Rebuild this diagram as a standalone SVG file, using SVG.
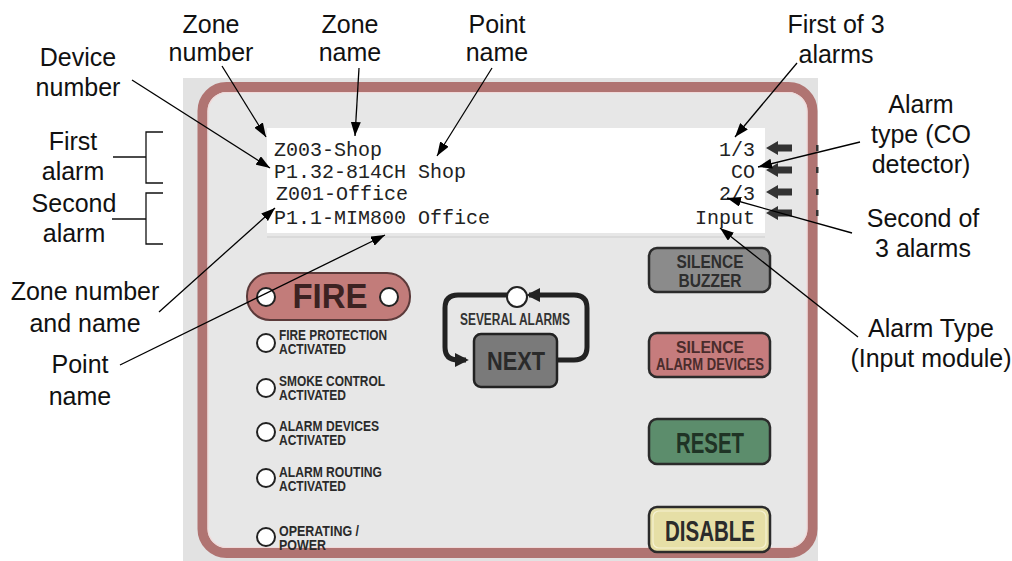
<svg xmlns="http://www.w3.org/2000/svg" width="1012" height="561" viewBox="0 0 1012 561">
  <defs>
    <style>
      .lbl { font-family: "Liberation Sans", Arial, sans-serif; font-size: 25px; fill: #111; text-anchor: middle; }
      .lcd { font-family: "Liberation Mono", "Courier New", monospace; font-size: 20px; fill: #222; }
      .led-txt { font-family: "Liberation Sans", Arial, sans-serif; font-weight: bold; font-size: 14px; fill: #2a2a2a; }
      .btn-txt { font-family: "Liberation Sans", Arial, sans-serif; font-weight: bold; text-anchor: middle; }
      .led { fill: #fff; stroke: #222; stroke-width: 2; }
      .conn { stroke: #000; stroke-width: 1.3; fill: none; marker-end: url(#ah); }
      .btn { stroke: #2b2b2b; stroke-width: 2.5; }
      .ind { fill: #333; }
    </style>
    <marker id="ah" viewBox="0 0 14 10" refX="14" refY="5" markerWidth="14" markerHeight="10" markerUnits="userSpaceOnUse" orient="auto">
      <path d="M0,0 L14,5 L0,10 z" fill="#000"/>
    </marker>
    <marker id="loopHead" viewBox="0 0 10 10" refX="8" refY="5" markerWidth="14" markerHeight="14" markerUnits="userSpaceOnUse" orient="auto">
      <path d="M0,0 L10,5 L0,10 z" fill="#222"/>
    </marker>
  </defs>

  <!-- panel body -->
  <g id="panel">
    <rect x="183" y="78" width="635" height="483" fill="#e2e2e2"/>
    <rect x="202.5" y="87" width="610" height="466" rx="24" fill="#e7e7e7" stroke="#b07472" stroke-width="10"/>
    <rect x="208" y="92.5" width="599" height="455" rx="19" fill="none" stroke="#f1d9d9" stroke-width="1.2"/>
  </g>

  <!-- LCD display -->
  <g id="lcd">
    <rect x="267" y="128" width="498" height="105" fill="#fff"/>
    <line x1="267" y1="237" x2="765" y2="237" stroke="#d6d6d6" stroke-width="1.5"/>
    <text class="lcd" x="274" y="156">Z003-Shop</text>
    <text class="lcd" x="274" y="178">P1.32-814CH Shop</text>
    <text class="lcd" x="276" y="200">Z001-Office</text>
    <text class="lcd" x="274" y="224">P1.1-MIM800 Office</text>
    <text class="lcd" x="755" y="156" text-anchor="end">1/3</text>
    <text class="lcd" x="755" y="178" text-anchor="end">CO</text>
    <text class="lcd" x="755" y="200" text-anchor="end">2/3</text>
    <text class="lcd" x="755" y="224" text-anchor="end">Input</text>
  </g>

  <!-- line indicator arrows beside the display -->
  <g id="line-indicators">
    <path class="ind" d="M766,148 L778,141 L778,144.5 L792,144.5 L792,151.5 L778,151.5 L778,155 z"/>
    <path class="ind" d="M766,170 L778,163 L778,166.5 L792,166.5 L792,173.5 L778,173.5 L778,177 z"/>
    <path class="ind" d="M766,192 L778,185 L778,188.5 L792,188.5 L792,195.5 L778,195.5 L778,199 z"/>
    <path class="ind" d="M766,213 L778,206 L778,209.5 L792,209.5 L792,216.5 L778,216.5 L778,220 z"/>
    <rect class="ind" x="816" y="145" width="2.5" height="6"/>
    <rect class="ind" x="816" y="167" width="2.5" height="6"/>
    <rect class="ind" x="816" y="189" width="2.5" height="6"/>
    <rect class="ind" x="816" y="210" width="2.5" height="6"/>
  </g>

  <!-- FIRE indicator -->
  <g id="fire">
    <rect x="247" y="273" width="163" height="47" rx="23" fill="#c27c7a" stroke="#5b3a3a" stroke-width="2"/>
    <circle class="led" cx="266" cy="297" r="9"/>
    <circle class="led" cx="389" cy="297" r="9"/>
    <text class="btn-txt" x="330" y="308" font-size="35" fill="#3c2222" textLength="75" lengthAdjust="spacingAndGlyphs">FIRE</text>
  </g>

  <!-- status LEDs -->
  <g id="led-fire-protection">
    <circle class="led" cx="266" cy="343" r="9"/>
    <text class="led-txt" x="279" y="340" textLength="108" lengthAdjust="spacingAndGlyphs">FIRE PROTECTION</text>
    <text class="led-txt" x="279" y="354" textLength="67" lengthAdjust="spacingAndGlyphs">ACTIVATED</text>
  </g>
  <g id="led-smoke-control">
    <circle class="led" cx="266" cy="388" r="9"/>
    <text class="led-txt" x="279" y="386" textLength="106" lengthAdjust="spacingAndGlyphs">SMOKE CONTROL</text>
    <text class="led-txt" x="279" y="400" textLength="67" lengthAdjust="spacingAndGlyphs">ACTIVATED</text>
  </g>
  <g id="led-alarm-devices">
    <circle class="led" cx="266" cy="432" r="9"/>
    <text class="led-txt" x="279" y="431" textLength="100" lengthAdjust="spacingAndGlyphs">ALARM DEVICES</text>
    <text class="led-txt" x="279" y="445" textLength="67" lengthAdjust="spacingAndGlyphs">ACTIVATED</text>
  </g>
  <g id="led-alarm-routing">
    <circle class="led" cx="266" cy="478" r="9"/>
    <text class="led-txt" x="279" y="477" textLength="103" lengthAdjust="spacingAndGlyphs">ALARM ROUTING</text>
    <text class="led-txt" x="279" y="491" textLength="67" lengthAdjust="spacingAndGlyphs">ACTIVATED</text>
  </g>
  <g id="led-operating">
    <circle class="led" cx="266" cy="537" r="9"/>
    <text class="led-txt" x="279" y="536" textLength="80" lengthAdjust="spacingAndGlyphs">OPERATING /</text>
    <text class="led-txt" x="279" y="550" textLength="47" lengthAdjust="spacingAndGlyphs">POWER</text>
  </g>

  <!-- NEXT / several alarms loop -->
  <g id="next">
    <path d="M557,360 L574,360 Q587,360 587,347 L587,308 Q587,295 574,295 L529,295" fill="none" stroke="#222" stroke-width="5" marker-end="url(#loopHead)"/>
    <path d="M507,295 L458,295 Q445,295 445,308 L445,347 Q445,360 458,360 L466,360" fill="none" stroke="#222" stroke-width="5" marker-end="url(#loopHead)"/>
    <circle class="led" cx="517" cy="297" r="10"/>
    <text class="btn-txt" x="515" y="325" font-size="16" fill="#333" textLength="110" lengthAdjust="spacingAndGlyphs">SEVERAL ALARMS</text>
    <rect x="474" y="334" width="83" height="53" rx="7" fill="#7a7a7a" stroke="#222" stroke-width="2.5"/>
    <text class="btn-txt" x="516" y="370" font-size="25" fill="#2a2a2a" textLength="58" lengthAdjust="spacingAndGlyphs">NEXT</text>
  </g>

  <!-- control buttons -->
  <g id="btn-silence-buzzer">
    <rect class="btn" x="649" y="248" width="121" height="44" rx="8" fill="#8b8b8b"/>
    <text class="btn-txt" x="710" y="268" font-size="18" fill="#2e2e2e" textLength="67" lengthAdjust="spacingAndGlyphs">SILENCE</text>
    <text class="btn-txt" x="710" y="287" font-size="18" fill="#2e2e2e" textLength="63" lengthAdjust="spacingAndGlyphs">BUZZER</text>
  </g>
  <g id="btn-silence-alarm-devices">
    <rect class="btn" x="649" y="333" width="121" height="44" rx="8" fill="#c67c7d"/>
    <text class="btn-txt" x="710" y="353" font-size="16" fill="#4a2c2c" textLength="68" lengthAdjust="spacingAndGlyphs">SILENCE</text>
    <text class="btn-txt" x="710" y="370" font-size="16" fill="#4a2c2c" textLength="108" lengthAdjust="spacingAndGlyphs">ALARM DEVICES</text>
  </g>
  <g id="btn-reset">
    <rect class="btn" x="649" y="419" width="121" height="45" rx="8" fill="#5c8d6c"/>
    <text class="btn-txt" x="710" y="453" font-size="29" fill="#1f3325" textLength="68" lengthAdjust="spacingAndGlyphs">RESET</text>
  </g>
  <g id="btn-disable">
    <rect class="btn" x="649" y="507" width="121" height="45" rx="8" fill="#e6dfa6"/>
    <rect x="653" y="511" width="113" height="37" rx="6" fill="none" stroke="#f6f2d2" stroke-width="1.2"/>
    <text class="btn-txt" x="710" y="541" font-size="30" fill="#2b2b2b" textLength="90" lengthAdjust="spacingAndGlyphs">DISABLE</text>
  </g>

  <!-- callout labels -->
  <g id="label-zone-number"><text class="lbl" x="211" y="33">Zone</text><text class="lbl" x="211" y="61">number</text></g>
  <g id="label-zone-name"><text class="lbl" x="350" y="33">Zone</text><text class="lbl" x="350" y="61">name</text></g>
  <g id="label-point-name"><text class="lbl" x="497" y="33">Point</text><text class="lbl" x="497" y="61">name</text></g>
  <g id="label-device-number"><text class="lbl" x="78" y="66">Device</text><text class="lbl" x="78" y="96">number</text></g>
  <g id="label-first-alarm">
    <text class="lbl" x="73" y="150">First</text><text class="lbl" x="73" y="180">alarm</text>
    <path d="M163,132 H146 V183 H163 M113,157 H146" fill="none" stroke="#111" stroke-width="1.3"/>
  </g>
  <g id="label-second-alarm">
    <text class="lbl" x="74" y="212">Second</text><text class="lbl" x="74" y="242">alarm</text>
    <path d="M163,193 H146 V244 H163 M112,219 H146" fill="none" stroke="#111" stroke-width="1.3"/>
  </g>
  <g id="label-zone-number-name"><text class="lbl" x="85" y="300">Zone number</text><text class="lbl" x="85" y="332">and name</text></g>
  <g id="label-point-name-2"><text class="lbl" x="80" y="373">Point</text><text class="lbl" x="80" y="405">name</text></g>
  <g id="label-first-of-3"><text class="lbl" x="836" y="33">First of 3</text><text class="lbl" x="836" y="63">alarms</text></g>
  <g id="label-alarm-type-co"><text class="lbl" x="921" y="113">Alarm</text><text class="lbl" x="921" y="143">type (CO</text><text class="lbl" x="921" y="173">detector)</text></g>
  <g id="label-second-of-3"><text class="lbl" x="923" y="227">Second of</text><text class="lbl" x="923" y="257">3 alarms</text></g>
  <g id="label-alarm-type-input"><text class="lbl" x="931" y="337">Alarm Type</text><text class="lbl" x="931" y="367">(Input module)</text></g>

  <!-- callout connectors -->
  <g id="connectors">
    <line class="conn" x1="222" y1="66" x2="266" y2="137"/>
    <line class="conn" x1="359" y1="68" x2="355" y2="136"/>
    <line class="conn" x1="492" y1="68" x2="437" y2="156"/>
    <line class="conn" x1="132" y1="80" x2="270" y2="168"/>
    <line class="conn" x1="159" y1="312" x2="275" y2="208"/>
    <line class="conn" x1="120" y1="365" x2="385" y2="235"/>
    <line class="conn" x1="797" y1="63" x2="735" y2="137"/>
    <line class="conn" x1="860" y1="142" x2="758" y2="167"/>
    <line class="conn" x1="852" y1="233" x2="727" y2="198"/>
    <line class="conn" x1="858" y1="337" x2="720" y2="228"/>
  </g>
</svg>
